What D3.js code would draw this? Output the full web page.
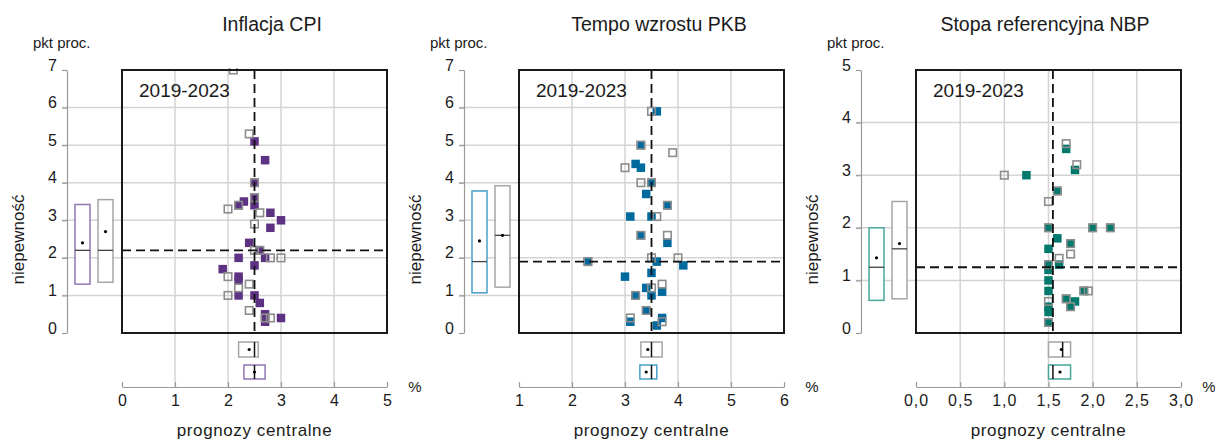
<!DOCTYPE html>
<html><head><meta charset="utf-8">
<script src="https://cdn.jsdelivr.net/npm/d3@7"></script>
<style>body{margin:0;background:#fff} svg{display:block;font-family:"Liberation Sans",Arial,sans-serif}</style>
</head><body><svg id="c" width="1215" height="441"></svg>
<script>
// ---------- data ----------
const titles = ["Inflacja CPI", "Tempo wzrostu PKB", "Stopa referencyjna NBP"];
const periodLabel = "2019-2023";
const yAxisTitle = "niepewność";
const yUnit = "pkt proc.";
const xAxisTitle = "prognozy centralne";
const xUnit = "%";

const xDomains = [[0, 5], [1, 6], [0, 3]];
const yDomains = [[0, 7], [0, 7], [0, 5]];
const xTickValues = [[0, 1, 2, 3, 4, 5], [1, 2, 3, 4, 5, 6], [0, 0.5, 1, 1.5, 2, 2.5, 3]];
const yTickValues = [[0, 1, 2, 3, 4, 5, 6, 7], [0, 1, 2, 3, 4, 5, 6, 7], [0, 1, 2, 3, 4, 5]];
const xTickDecimals = [0, 0, 1];

// filled = latest round (coloured), hollow = earlier round (grey) : [central forecast, uncertainty]
const cpiFilled = [[2.5,5.1],[2.7,4.6],[2.5,4.0],[2.5,3.6],[2.3,3.5],[2.2,3.4],[2.5,3.4],[2.8,3.2],[3.0,3.0],[2.8,2.8],[2.4,2.4],[2.6,2.2],[2.2,2.0],[2.7,2.0],[2.5,1.8],[1.9,1.7],[2.2,1.5],[2.2,1.4],[2.2,1.0],[2.5,1.0],[2.6,0.8],[2.7,0.5],[2.7,0.3],[3.0,0.4]];
const cpiHollow = [[2.1,7.0],[2.4,5.3],[2.5,4.0],[2.5,3.6],[2.2,3.4],[2.0,3.3],[2.6,3.2],[2.5,2.9],[2.5,2.2],[2.6,2.2],[2.8,2.0],[3.0,2.0],[2.0,1.5],[2.4,1.3],[2.2,1.2],[2.0,1.0],[2.4,0.6],[2.7,0.4],[2.8,0.4]];
const pkbFilled = [[3.6,5.9],[3.3,5.0],[3.2,4.5],[3.3,4.4],[3.5,4.0],[3.4,3.7],[3.8,3.4],[3.1,3.1],[3.5,3.1],[3.3,2.6],[3.8,2.4],[2.3,1.9],[3.6,1.9],[4.1,1.8],[3.5,1.6],[3.0,1.5],[3.4,1.2],[3.7,1.1],[3.2,1.0],[3.5,1.0],[3.4,0.6],[3.1,0.3],[3.7,0.4],[3.6,0.2]];
const pkbHollow = [[3.5,5.9],[3.3,5.0],[3.9,4.8],[3.0,4.4],[3.3,4.0],[3.5,4.0],[3.8,3.4],[3.6,3.1],[3.3,2.6],[3.8,2.6],[2.3,1.9],[3.5,2.0],[4.0,2.0],[3.7,1.3],[3.5,1.2],[3.2,1.0],[3.4,0.6],[3.1,0.4],[3.7,0.3]];
const nbpFilled = [[1.25,3.0],[1.7,3.5],[1.8,3.1],[1.6,2.7],[1.5,2.0],[2.0,2.0],[2.2,2.0],[1.6,1.8],[1.75,1.7],[1.5,1.6],[1.62,1.3],[1.5,1.3],[1.5,1.2],[1.5,1.0],[1.5,0.8],[1.5,0.5],[1.5,0.4],[1.5,0.2],[1.7,0.65],[1.8,0.6],[1.75,0.5],[1.9,0.8]];
const nbpHollow = [[1.0,3.0],[1.7,3.6],[1.82,3.2],[1.6,2.7],[1.5,2.5],[1.5,2.0],[2.0,2.0],[2.2,2.0],[1.75,1.7],[1.75,1.5],[1.62,1.42],[1.5,1.3],[1.5,0.6],[1.5,0.2],[1.7,0.65],[1.75,0.5],[1.9,0.8],[1.95,0.8]];

// distributions: [q1, median, q3, mean]
const cpiUncBoxes = [[1.3,2.2,3.42,2.4],[1.35,2.2,3.55,2.7]];      // coloured, grey
const pkbUncBoxes = [[1.07,1.9,3.78,2.45],[1.22,2.6,3.92,2.6]];
const nbpUncBoxes = [[0.62,1.25,2.0,1.43],[0.65,1.6,2.5,1.7]];
const cpiCentBoxes = [[2.3,2.5,2.7,2.5],[2.2,2.5,2.57,2.4]];       // coloured, grey
const pkbCentBoxes = [[3.28,3.5,3.6,3.4],[3.3,3.5,3.7,3.43]];
const nbpCentBoxes = [[1.5,1.55,1.75,1.63],[1.5,1.66,1.75,1.645]];
const medianLines = [[2.5,2.2],[3.5,1.9],[1.55,1.25]];             // [x, y]

const mainColors = ["#5e3282", "#006a9f", "#00796d"];
const boxColors = ["#9177b2", "#4a9fca", "#47a79b"];

// ---------- layout ----------
const frameLefts = [122, 519, 916];
const frameW = 265, frameTop = 70, frameBottom = 333, xAxisY = 387;
const titleCenters = [272, 659, 1045];

const filledSets = [cpiFilled, pkbFilled, nbpFilled];
const hollowSets = [cpiHollow, pkbHollow, nbpHollow];
const uncBoxSets = [cpiUncBoxes, pkbUncBoxes, nbpUncBoxes];
const centBoxSets = [cpiCentBoxes, pkbCentBoxes, nbpCentBoxes];

const svg = d3.select("#c");
const gridCol = "#d4d4d4", axisCol = "#9a9a9a", hollowCol = "#8d8d8d", txt = "#1a1a1a";

titles.forEach((title, i) => {
  const L = frameLefts[i], R = L + frameW;
  const x = d3.scaleLinear().domain(xDomains[i]).range([L, R]);
  const y = d3.scaleLinear().domain(yDomains[i]).range([frameBottom, frameTop]);
  const yAxX = L - 55;
  const g = svg.append("g");
  const fmt = d3.format("." + xTickDecimals[i] + "f");

  // horizontal grid
  g.selectAll(".hg").data(yTickValues[i].filter(v => v > yDomains[i][0] && v < yDomains[i][1]))
    .join("line").attr("x1", yAxX - 5).attr("x2", R).attr("y1", d => y(d)).attr("y2", d => y(d))
    .attr("stroke", gridCol).attr("stroke-width", 1.5);
  // vertical grid
  g.selectAll(".vg").data(xTickValues[i].filter(v => v > xDomains[i][0] && v < xDomains[i][1]))
    .join("line").attr("x1", d => x(d)).attr("x2", d => x(d)).attr("y1", frameTop).attr("y2", xAxisY)
    .attr("stroke", gridCol).attr("stroke-width", 1.5);

  // y axis
  const ya = d3.axisLeft(y).tickValues(yTickValues[i]).tickSize(5).tickSizeOuter(0).tickFormat(d3.format("d"));
  const yg = g.append("g").attr("transform", `translate(${yAxX},0)`).call(ya);
  yg.select(".domain").attr("stroke", axisCol).attr("stroke-width", 1.2);
  yg.selectAll(".tick line").attr("stroke", axisCol).attr("stroke-width", 1.2);
  yg.selectAll(".tick text").attr("x", -10).attr("dy", "0").attr("fill", txt)
    .style("font-size", "16px").style("font-family", "Liberation Sans, Arial, sans-serif");

  // x axis
  const xa = d3.axisTop(x).tickValues(xTickValues[i]).tickSize(5).tickSizeOuter(0).tickFormat(d => fmt(d).replace(".", ","));
  const xg = g.append("g").attr("transform", `translate(0,${xAxisY})`).call(xa);
  xg.select(".domain").attr("stroke", axisCol).attr("stroke-width", 1.2);
  xg.selectAll(".tick line").attr("stroke", axisCol).attr("stroke-width", 1.2);
  xg.selectAll(".tick text").attr("y", 19).attr("dy", "0").attr("fill", txt)
    .style("font-size", "16px").style("letter-spacing", xTickDecimals[i] ? "1px" : "0px")
    .style("font-family", "Liberation Sans, Arial, sans-serif");

  // frame background
  g.append("rect").attr("x", L).attr("y", frameTop).attr("width", frameW).attr("height", frameBottom - frameTop)
    .attr("fill", "none");

  // uncertainty boxes (left)
  const ub = uncBoxSets[i];
  const uOff = [[8, 23], [31, 46]];
  ub.forEach((b, k) => {
    const x0 = yAxX + uOff[k][0], x1 = yAxX + uOff[k][1];
    const col = k === 0 ? boxColors[i] : "#a5a5a5";
    g.append("rect").attr("x", x0).attr("y", y(b[2])).attr("width", x1 - x0).attr("height", y(b[0]) - y(b[2]))
      .attr("fill", "#fff").attr("stroke", col).attr("stroke-width", 1.5);
    g.append("line").attr("x1", x0).attr("x2", x1).attr("y1", y(b[1])).attr("y2", y(b[1]))
      .attr("stroke", "#444").attr("stroke-width", 1.3);
    g.append("circle").attr("cx", (x0 + x1) / 2).attr("cy", y(b[3])).attr("r", 1.6).attr("fill", "#000");
  });

  // central forecast boxes (bottom)
  const cb = centBoxSets[i];
  const cOff = [[32, 46], [9, 24]];
  cb.forEach((b, k) => {
    const y0 = frameBottom + cOff[k][0], y1 = frameBottom + cOff[k][1];
    const col = k === 0 ? boxColors[i] : "#a5a5a5";
    g.append("rect").attr("x", x(b[0])).attr("y", y0).attr("width", x(b[2]) - x(b[0])).attr("height", y1 - y0)
      .attr("fill", "#fff").attr("stroke", col).attr("stroke-width", 1.5);
    g.append("line").attr("x1", x(b[1])).attr("x2", x(b[1])).attr("y1", y0).attr("y2", y1)
      .attr("stroke", "#111").attr("stroke-width", 1.5);
    g.append("circle").attr("cx", x(b[3])).attr("cy", (y0 + y1) / 2).attr("r", 1.6).attr("fill", "#000");
  });

  // points
  const clipId = "clip" + i;
  svg.append("clipPath").attr("id", clipId).append("rect")
    .attr("x", L).attr("y", frameTop - 2).attr("width", frameW).attr("height", frameBottom - frameTop + 2);
  const pg = g.append("g").attr("clip-path", `url(#${clipId})`);
  const fs = 8.5;
  pg.selectAll(".f").data(filledSets[i]).join("rect")
    .attr("x", d => x(d[0]) - fs / 2).attr("y", d => y(d[1]) - fs / 2).attr("width", fs).attr("height", fs)
    .attr("fill", mainColors[i]);
  const hs = 7.5;
  pg.selectAll(".h").data(hollowSets[i]).join("rect")
    .attr("x", d => x(d[0]) - hs / 2).attr("y", d => y(d[1]) - hs / 2).attr("width", hs).attr("height", hs)
    .attr("fill", "none").attr("stroke", hollowCol).attr("stroke-width", 1.6);

  // median dashed lines
  const m = medianLines[i];
  g.append("line").attr("x1", x(m[0])).attr("x2", x(m[0])).attr("y1", frameTop).attr("y2", frameBottom)
    .attr("stroke", "#111").attr("stroke-width", 1.8).attr("stroke-dasharray", "9,5");
  g.append("line").attr("x1", L).attr("x2", R).attr("y1", y(m[1])).attr("y2", y(m[1]))
    .attr("stroke", "#111").attr("stroke-width", 1.8).attr("stroke-dasharray", "9,5");

  // frame
  g.append("rect").attr("x", L).attr("y", frameTop).attr("width", frameW).attr("height", frameBottom - frameTop)
    .attr("fill", "none").attr("stroke", "#1a1a1a").attr("stroke-width", 2);

  // texts
  g.append("text").attr("x", titleCenters[i]).attr("y", 31).attr("text-anchor", "middle")
    .attr("fill", txt).style("font-size", "19.5px").text(title);
  g.append("text").attr("x", L + 17).attr("y", 97).attr("fill", txt).style("font-size", "19px").text(periodLabel);
  g.append("text").attr("x", yAxX - 34).attr("y", 48).attr("fill", txt).style("font-size", "15px").text(yUnit);
  g.append("text").attr("transform", `translate(${yAxX - 43},${(frameTop + frameBottom) / 2 + 38}) rotate(-90)`)
    .attr("text-anchor", "middle").attr("fill", txt).style("font-size", "17px").text(yAxisTitle);
  g.append("text").attr("x", R + 28).attr("y", 392).attr("text-anchor", "middle")
    .attr("fill", txt).style("font-size", "15px").text(xUnit);
  g.append("text").attr("x", (L + R) / 2).attr("y", 436).attr("text-anchor", "middle")
    .attr("fill", txt).style("font-size", "17px").style("letter-spacing", "0.6px").text(xAxisTitle);
});
</script></body></html>
